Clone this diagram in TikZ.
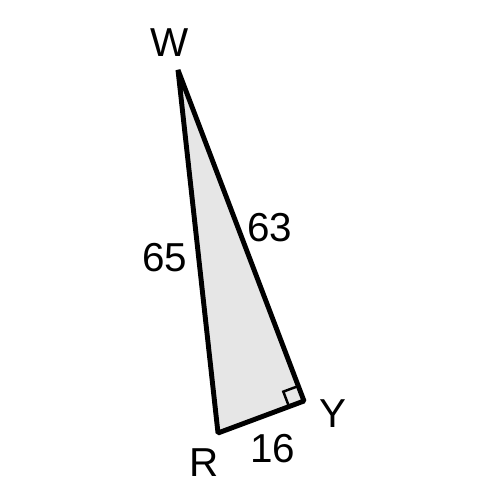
\documentclass[tikz,border=0pt]{standalone}
\usepackage{fontspec}
\setmainfont{Liberation Sans}
\usetikzlibrary{calc}
\definecolor{shade}{RGB}{230,230,230}

\begin{document}
\begin{tikzpicture}[x=0.02cm,y=-0.02cm,lbl/.style={font=\fontsize{23}{26}\selectfont,inner sep=0pt}]
  \useasboundingbox (0,0) rectangle (500,500);
  \coordinate (W) at (178,70);
  \coordinate (R) at (218,433);
  \coordinate (Y) at (304,401);
  \filldraw[fill=shade,line width=2.8pt,line join=bevel] (W)--(R)--(Y)--cycle;
  % right angle mark at Y
  \coordinate (m1) at ($(Y)!0.32cm!(R)$);
  \coordinate (m3) at ($(Y)!0.32cm!(W)$);
  \draw[line width=1.4pt] (m1) -- ($(m1)+(m3)-(Y)$) -- (m3);
  \node[lbl] (wl) at (170,43) {W};
  \node[lbl] (rl) at (204,463) {R};
  \node[lbl] (yl) at (333,414) {Y};
  \node[lbl] (a) at (165,258) {65};
  \node[lbl] (b) at (270,228) {63};
  \node[lbl] (c) at (273,449) {16};
\end{tikzpicture}
\end{document}
